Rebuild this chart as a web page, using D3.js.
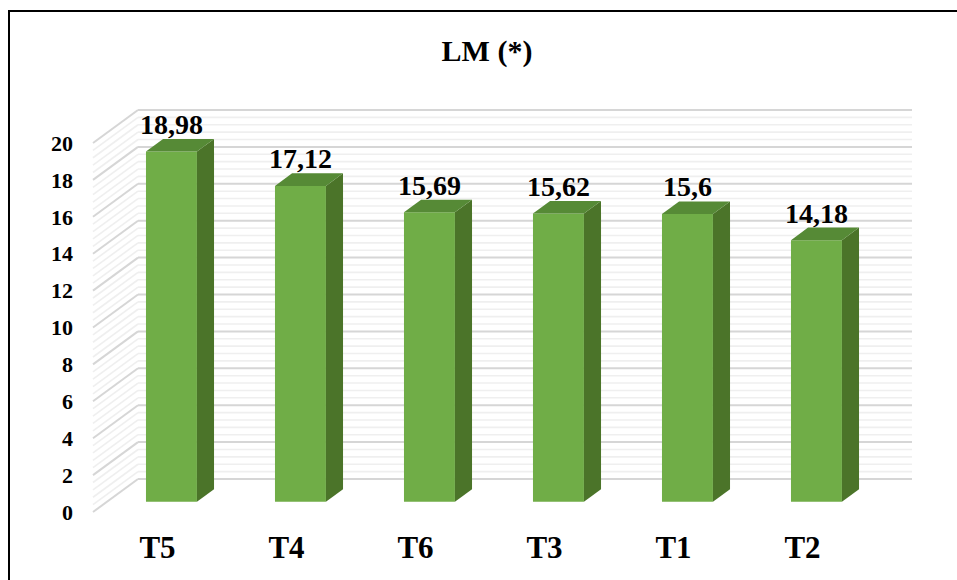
<!DOCTYPE html>
<html>
<head>
<meta charset="utf-8">
<script src="https://cdn.jsdelivr.net/npm/d3@7/dist/d3.min.js"></script>
<style>
  html, body { margin: 0; padding: 0; background: #fff; }
  svg { display: block; }
  svg text { font-family: "Times New Roman", "Liberation Serif", Tinos, Times, serif; font-weight: 700; fill: #000; }
</style>
</head>
<body>
<script>
// Chart data
const categories = ["T5", "T4", "T6", "T3", "T1", "T2"];
const values = [18.98, 17.12, 15.69, 15.62, 15.6, 14.18];
const valueLabels = ["18,98", "17,12", "15,69", "15,62", "15,6", "14,18"];
const yTicks = [0, 2, 4, 6, 8, 10, 12, 14, 16, 18, 20];
const title = "LM (*)";

const W = 957, H = 580;
const svg = d3.select("body").append("svg").attr("width", W).attr("height", H);

// Front-plane scales; depth is projected by an oblique offset
const x = d3.scaleBand().domain(categories).range([93, 867]).paddingInner(0.605).paddingOuter(0.3025);
const y = d3.scaleLinear().domain([0, 20]).range([512, 143]);
const DX = 45, DY = -33;            // full wall depth offset
const zFront = 0.31, zBack = 0.69;  // bar depth within the floor
const P = (px, py, z) => [px + z * DX, py + z * DY];

// Outer frame
svg.append("rect").attr("x", 9).attr("y", 11).attr("width", 960).attr("height", 600)
  .attr("fill", "none").attr("stroke", "#000").attr("stroke-width", 2);

// Title
svg.append("text").attr("x", 487).attr("y", 61).attr("text-anchor", "middle")
  .attr("font-size", 30).text(title);

// Wall gridlines (major every 2, minor every 0.4)
const minorVals = d3.range(0, 20.001, 0.4).map(v => +v.toFixed(1));
const isMajor = v => Math.abs(v / 2 - Math.round(v / 2)) < 1e-6;
const xL = x.range()[0], xR = x.range()[1];
const walls = svg.append("g");
minorVals.filter(v => !isMajor(v)).concat(minorVals.filter(isMajor)).forEach(v => {
  const major = isMajor(v);
  const yy = y(v);
  const c = major ? "#d6d6d6" : "#efefef";
  const sw = major ? 2 : 1.6;
  const a = P(xL, yy, 0), b = P(xL, yy, 1), e = P(xR, yy, 1);
  walls.append("line").attr("x1", a[0]).attr("y1", a[1]).attr("x2", b[0]).attr("y2", b[1])
    .attr("stroke", c).attr("stroke-width", sw);
  walls.append("line").attr("x1", b[0]).attr("y1", b[1]).attr("x2", e[0]).attr("y2", e[1])
    .attr("stroke", c).attr("stroke-width", sw);
});

// Y axis labels
svg.append("g").selectAll("text").data(yTicks).join("text")
  .attr("x", 73).attr("y", d => y(d)).attr("dy", "0.35em")
  .attr("text-anchor", "end").attr("font-size", 22).text(d => d);

// Bars as boxes: front, side and top faces
const bars = svg.append("g");
categories.forEach((c, i) => {
  const x0 = x(c), x1 = x(c) + x.bandwidth();
  const yb = y(0), yt = y(values[i]);
  const f = [P(x0, yt, zFront), P(x1, yt, zFront), P(x1, yb, zFront), P(x0, yb, zFront)];
  const side = [P(x1, yt, zFront), P(x1, yt, zBack), P(x1, yb, zBack), P(x1, yb, zFront)];
  const top = [P(x0, yt, zFront), P(x0, yt, zBack), P(x1, yt, zBack), P(x1, yt, zFront)];
  const line = d3.line();
  bars.append("path").attr("d", line(f) + "Z").attr("fill", "#70ad47");
  bars.append("path").attr("d", line(side) + "Z").attr("fill", "#4b7429");
  bars.append("path").attr("d", line(top) + "Z").attr("fill", "#568a36");
  // value label centred over the front face, just above the top face
  const cx = P((x0 + x1) / 2, yt, zFront)[0];
  const ty = P(0, yt, zBack)[1];
  bars.append("text").attr("x", cx).attr("y", ty - 5)
    .attr("text-anchor", "middle").attr("font-size", 28).text(valueLabels[i]);
});

// Category labels
svg.append("g").selectAll("text").data(categories).join("text")
  .attr("x", d => x(d) + x.bandwidth() / 2).attr("y", 558)
  .attr("text-anchor", "middle").attr("font-size", 31).text(d => d);
</script>
</body>
</html>
